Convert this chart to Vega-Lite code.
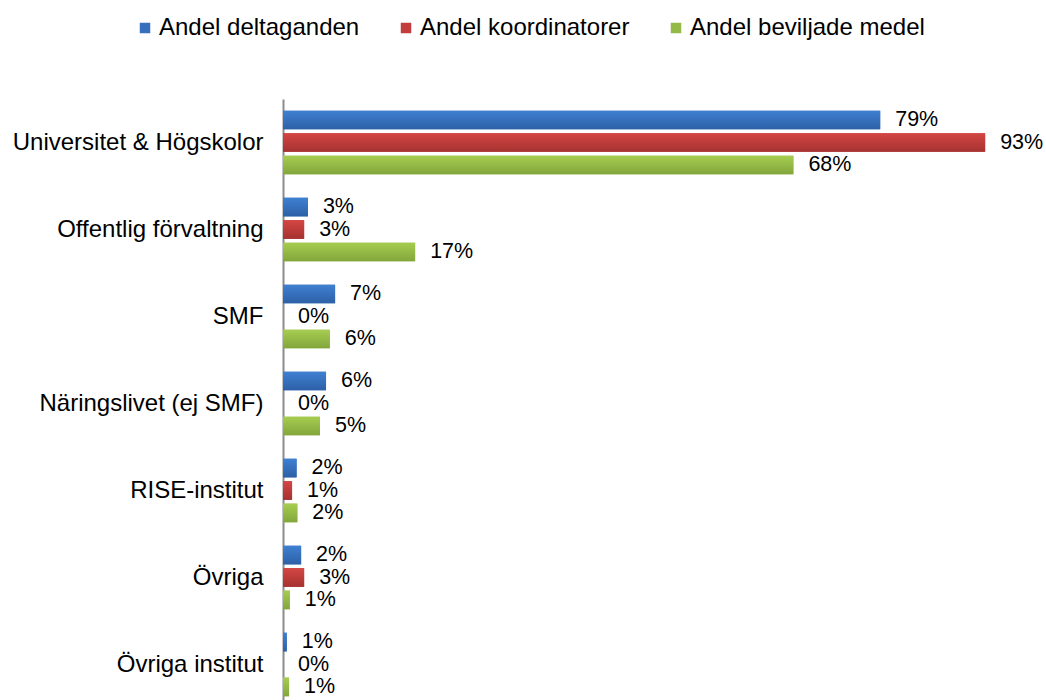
{
  "$schema": "https://vega.github.io/schema/vega-lite/v6.json",
  "width": 755,
  "height": 609,
  "autosize": {"type": "none"},
  "padding": {"left": 283, "top": 99, "right": 8, "bottom": 0},
  "background": "white",
  "config": {
    "font": "Liberation Sans",
    "view": {"stroke": null}
  },
  "data": {
    "values": [
      {"kategori": "Universitet & Högskolor", "serie": "Andel deltaganden", "varde": 79.1, "etikett": "79%"},
      {"kategori": "Universitet & Högskolor", "serie": "Andel koordinatorer", "varde": 93.0, "etikett": "93%"},
      {"kategori": "Universitet & Högskolor", "serie": "Andel beviljade medel", "varde": 67.6, "etikett": "68%"},
      {"kategori": "Offentlig förvaltning", "serie": "Andel deltaganden", "varde": 3.3, "etikett": "3%"},
      {"kategori": "Offentlig förvaltning", "serie": "Andel koordinatorer", "varde": 2.8, "etikett": "3%"},
      {"kategori": "Offentlig förvaltning", "serie": "Andel beviljade medel", "varde": 17.5, "etikett": "17%"},
      {"kategori": "SMF", "serie": "Andel deltaganden", "varde": 6.9, "etikett": "7%"},
      {"kategori": "SMF", "serie": "Andel koordinatorer", "varde": 0, "etikett": "0%"},
      {"kategori": "SMF", "serie": "Andel beviljade medel", "varde": 6.2, "etikett": "6%"},
      {"kategori": "Näringslivet (ej SMF)", "serie": "Andel deltaganden", "varde": 5.7, "etikett": "6%"},
      {"kategori": "Näringslivet (ej SMF)", "serie": "Andel koordinatorer", "varde": 0, "etikett": "0%"},
      {"kategori": "Näringslivet (ej SMF)", "serie": "Andel beviljade medel", "varde": 4.9, "etikett": "5%"},
      {"kategori": "RISE-institut", "serie": "Andel deltaganden", "varde": 1.8, "etikett": "2%"},
      {"kategori": "RISE-institut", "serie": "Andel koordinatorer", "varde": 1.2, "etikett": "1%"},
      {"kategori": "RISE-institut", "serie": "Andel beviljade medel", "varde": 1.9, "etikett": "2%"},
      {"kategori": "Övriga", "serie": "Andel deltaganden", "varde": 2.4, "etikett": "2%"},
      {"kategori": "Övriga", "serie": "Andel koordinatorer", "varde": 2.8, "etikett": "3%"},
      {"kategori": "Övriga", "serie": "Andel beviljade medel", "varde": 0.9, "etikett": "1%"},
      {"kategori": "Övriga institut", "serie": "Andel deltaganden", "varde": 0.5, "etikett": "1%"},
      {"kategori": "Övriga institut", "serie": "Andel koordinatorer", "varde": 0, "etikett": "0%"},
      {"kategori": "Övriga institut", "serie": "Andel beviljade medel", "varde": 0.8, "etikett": "1%"}
    ]
  },
  "encoding": {
    "y": {
      "field": "kategori",
      "type": "nominal",
      "sort": null,
      "scale": {"paddingInner": 0.27, "paddingOuter": 0.135},
      "axis": {
        "title": null,
        "ticks": false,
        "labelFontSize": 24,
        "labelColor": "#000000",
        "labelPadding": 20,
        "labelLimit": 400,
        "domainColor": "#8c8c8c",
        "domainWidth": 2,
        "grid": false
      }
    },
    "yOffset": {
      "field": "serie",
      "type": "nominal",
      "sort": ["Andel deltaganden", "Andel koordinatorer", "Andel beviljade medel"],
      "scale": {"paddingInner": 0.17, "paddingOuter": 0}
    },
    "x": {
      "field": "varde",
      "type": "quantitative",
      "scale": {"domain": [0, 100], "nice": false},
      "axis": null
    }
  },
  "layer": [
    {
      "mark": {"type": "bar"},
      "encoding": {
        "color": {
          "field": "serie",
          "type": "nominal",
          "scale": {
            "domain": ["Andel deltaganden", "Andel koordinatorer", "Andel beviljade medel"],
            "range": ["#3670bd", "#c13c3a", "#95b946"]
          },
          "legend": {
            "title": null,
            "orient": "none",
            "direction": "horizontal",
            "legendX": -150,
            "legendY": -83,
            "symbolType": "square",
            "symbolSize": 110,
            "symbolStrokeWidth": 0,
            "labelFontSize": 24,
            "labelColor": "#000000",
            "labelOffset": 2,
            "labelLimit": 400,
            "columnPadding": 34
          }
        }
      }
    },
    {
      "mark": {"type": "bar"},
      "encoding": {
        "fill": {
          "condition": [
            {"test": "datum.serie === 'Andel deltaganden'", "value": {"gradient": "linear", "x1": 0, "y1": 0, "x2": 0, "y2": 1, "stops": [{"offset": 0, "color": "#3f80d2"}, {"offset": 1, "color": "#2d60a6"}]}},
            {"test": "datum.serie === 'Andel koordinatorer'", "value": {"gradient": "linear", "x1": 0, "y1": 0, "x2": 0, "y2": 1, "stops": [{"offset": 0, "color": "#d44643"}, {"offset": 1, "color": "#a53230"}]}}
          ],
          "value": {"gradient": "linear", "x1": 0, "y1": 0, "x2": 0, "y2": 1, "stops": [{"offset": 0, "color": "#a6cd50"}, {"offset": 1, "color": "#83a63c"}]}
        }
      }
    },
    {
      "mark": {"type": "text", "align": "left", "baseline": "middle", "dx": 15, "fontSize": 21.5, "color": "#000000"},
      "encoding": {
        "text": {"field": "etikett", "type": "nominal"}
      }
    }
  ]
}
